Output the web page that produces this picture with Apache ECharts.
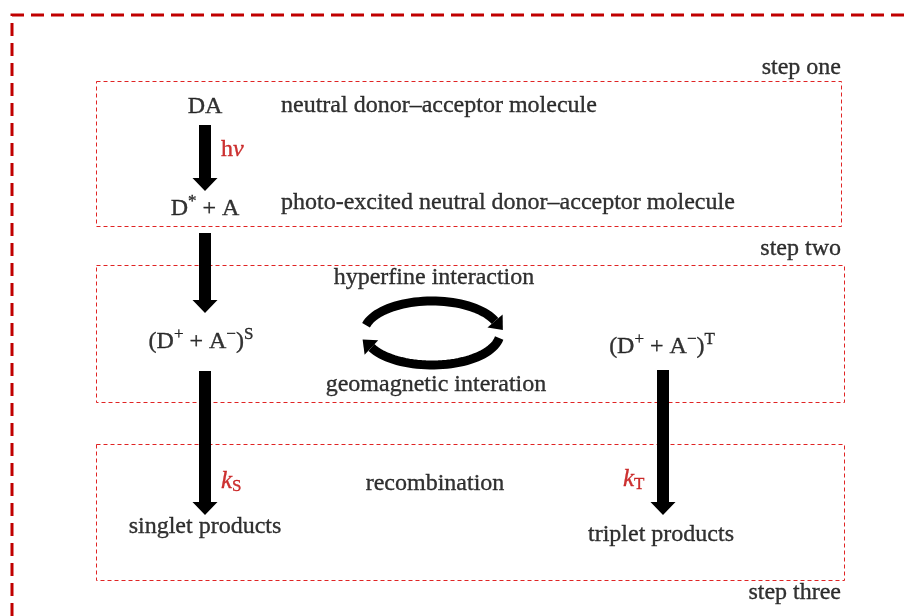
<!DOCTYPE html>
<html><head><meta charset="utf-8">
<script src="https://cdn.jsdelivr.net/npm/echarts@6/dist/echarts.min.js"></script>
<style>html,body{margin:0;padding:0;background:#fff}#c{width:909px;height:616px}</style>
</head><body><div id="c"></div>
<script>
// Diagram layout in a 909 x 616 value space
const stepBoxes = [[96,81,841,226],[96,265,844,402],[96,444,844,580]];
const frameLine = [[12,616],[12,15],[909,15]];
const arrows = [[205,125,191],[205,233,313],[205,371,515],[663,370,515]];
const cycleEllipse = [[432,333,68,32]];
const centerTexts = [
  [205,107,'DA'],
  [205,209,'D{sup|*} + A'],
  [201,342,'(D{sup|+} + A{sup|−}){sup|S}'],
  [434,278,'hyperfine interaction'],
  [436,385,'geomagnetic interation'],
  [662,347,'(D{sup|+} + A{sup|−}){sup|T}'],
  [435,484,'recombination'],
  [205,527,'singlet products'],
  [661,535,'triplet products']
];
const leftTexts = [
  [281,106,'neutral donor–acceptor molecule'],
  [281,203,'photo-excited neutral donor–acceptor molecule']
];
const redTexts = [
  [221,150,'{r|h}{ri|ν}'],
  [221,481,'{ki|k}{sub|S}'],
  [623,479,'{ki|k}{sub|T}']
];
const stepLabels = [[841,68,'step one'],[841,249,'step two'],[841,593,'step three']];

const FONT = "'Liberation Serif','Times New Roman',serif";
const RED = '#c00000';
const BW = 0.35;
const rich = {
  sup: {fontSize: 17, fontFamily: FONT, color: '#000', textBorderColor: '#000', textBorderWidth: BW, padding: [0,0,14,0]},
  sub: {fontSize: 17, fontFamily: FONT, color: RED, textBorderColor: RED, textBorderWidth: BW, padding: [12,0,0,0]},
  r: {fontSize: 24, fontFamily: FONT, color: RED, textBorderColor: RED, textBorderWidth: BW},
  ri: {fontSize: 24, fontFamily: FONT, color: RED, textBorderColor: RED, textBorderWidth: BW, fontStyle: 'italic'},
  ki: {fontSize: 25, fontFamily: FONT, color: RED, textBorderColor: RED, textBorderWidth: BW, fontStyle: 'italic'}
};

function textSeries(list, align, color, size) {
  return {
    type: 'scatter', symbolSize: 1, itemStyle: {color: 'rgba(0,0,0,0)'}, silent: true,
    data: list.map(t => ({
      value: [t[0], t[1]],
      label: {
        show: true, position: 'inside', align: align, verticalAlign: 'middle',
        formatter: t[2], color: color, fontSize: size, fontFamily: FONT,
        textBorderColor: color, textBorderWidth: BW, rich: rich
      }
    }))
  };
}

const chart = echarts.init(document.getElementById('c'));
chart.setOption({
  animation: false,
  backgroundColor: '#fff',
  grid: {left: 0, right: 0, top: 0, bottom: 0},
  xAxis: {type: 'value', min: 0, max: 909, show: false},
  yAxis: {type: 'value', min: 0, max: 616, inverse: true, show: false},
  series: [
    {
      type: 'custom', silent: true, data: [[0]],
      renderItem(params, api) {
        return {type: 'polyline', shape: {points: frameLine.map(p => api.coord(p))},
          style: {fill: 'none', stroke: RED, lineWidth: 3, lineDash: [13, 7]}};
      }
    },
    {
      type: 'custom', silent: true, data: stepBoxes,
      renderItem(params, api) {
        const p0 = api.coord([api.value(0), api.value(1)]);
        const p1 = api.coord([api.value(2), api.value(3)]);
        const x0 = Math.round(p0[0]) + 0.5, y0 = Math.round(p0[1]) + 0.5;
        const x1 = Math.round(p1[0]) + 0.5, y1 = Math.round(p1[1]) + 0.5;
        return {type: 'rect', shape: {x: x0, y: y0, width: x1 - x0, height: y1 - y0},
          style: {fill: 'none', stroke: '#e02424', lineWidth: 1, lineDash: [4, 3]}};
      }
    },
    {
      type: 'custom', silent: true, data: arrows,
      renderItem(params, api) {
        const a = api.coord([api.value(0), api.value(1)]);
        const b = api.coord([api.value(0), api.value(2)]);
        const sw = 6, hw = 12.5, hl = 13, x = a[0];
        return {type: 'polygon', shape: {points: [
          [x-sw, a[1]], [x+sw, a[1]], [x+sw, b[1]-hl], [x+hw, b[1]-hl], [x, b[1]],
          [x-hw, b[1]-hl], [x-sw, b[1]-hl]]}, style: {fill: '#000'}};
      }
    },
    {
      type: 'custom', silent: true, data: cycleEllipse,
      renderItem(params, api) {
        const c = api.coord([api.value(0), api.value(1)]);
        const rx = api.value(2), ry = api.value(3);
        const children = [];
        function arc(t0, t1) {
          const pts = [];
          const n = 40;
          for (let i = 0; i <= n; i++) {
            const t = (t0 + (t1 - t0) * i / n) * Math.PI / 180;
            pts.push([c[0] + rx * Math.cos(t), c[1] - ry * Math.sin(t)]);
          }
          children.push({type: 'polyline', shape: {points: pts},
            style: {fill: 'none', stroke: '#000', lineWidth: 9, lineCap: 'butt'}});
          const te = t1 * Math.PI / 180;
          const P = pts[pts.length - 1];
          let dx = rx * Math.sin(te), dy = ry * Math.cos(te);
          const L = Math.hypot(dx, dy); dx /= L; dy /= L;
          const hw = 10, hl = 12;
          children.push({type: 'polygon', shape: {points: [
            [P[0] - dy * hw, P[1] + dx * hw], [P[0] + dx * hl, P[1] + dy * hl], [P[0] + dy * hw, P[1] - dx * hw]
          ]}, style: {fill: '#000'}});
        }
        arc(166, 22);
        arc(-9, -153);
        return {type: 'group', children: children};
      }
    },
    textSeries(centerTexts, 'center', '#000', 24),
    textSeries(leftTexts, 'left', '#000', 24),
    textSeries(redTexts, 'left', RED, 24),
    textSeries(stepLabels, 'right', '#000', 24)
  ]
});
</script></body></html>
